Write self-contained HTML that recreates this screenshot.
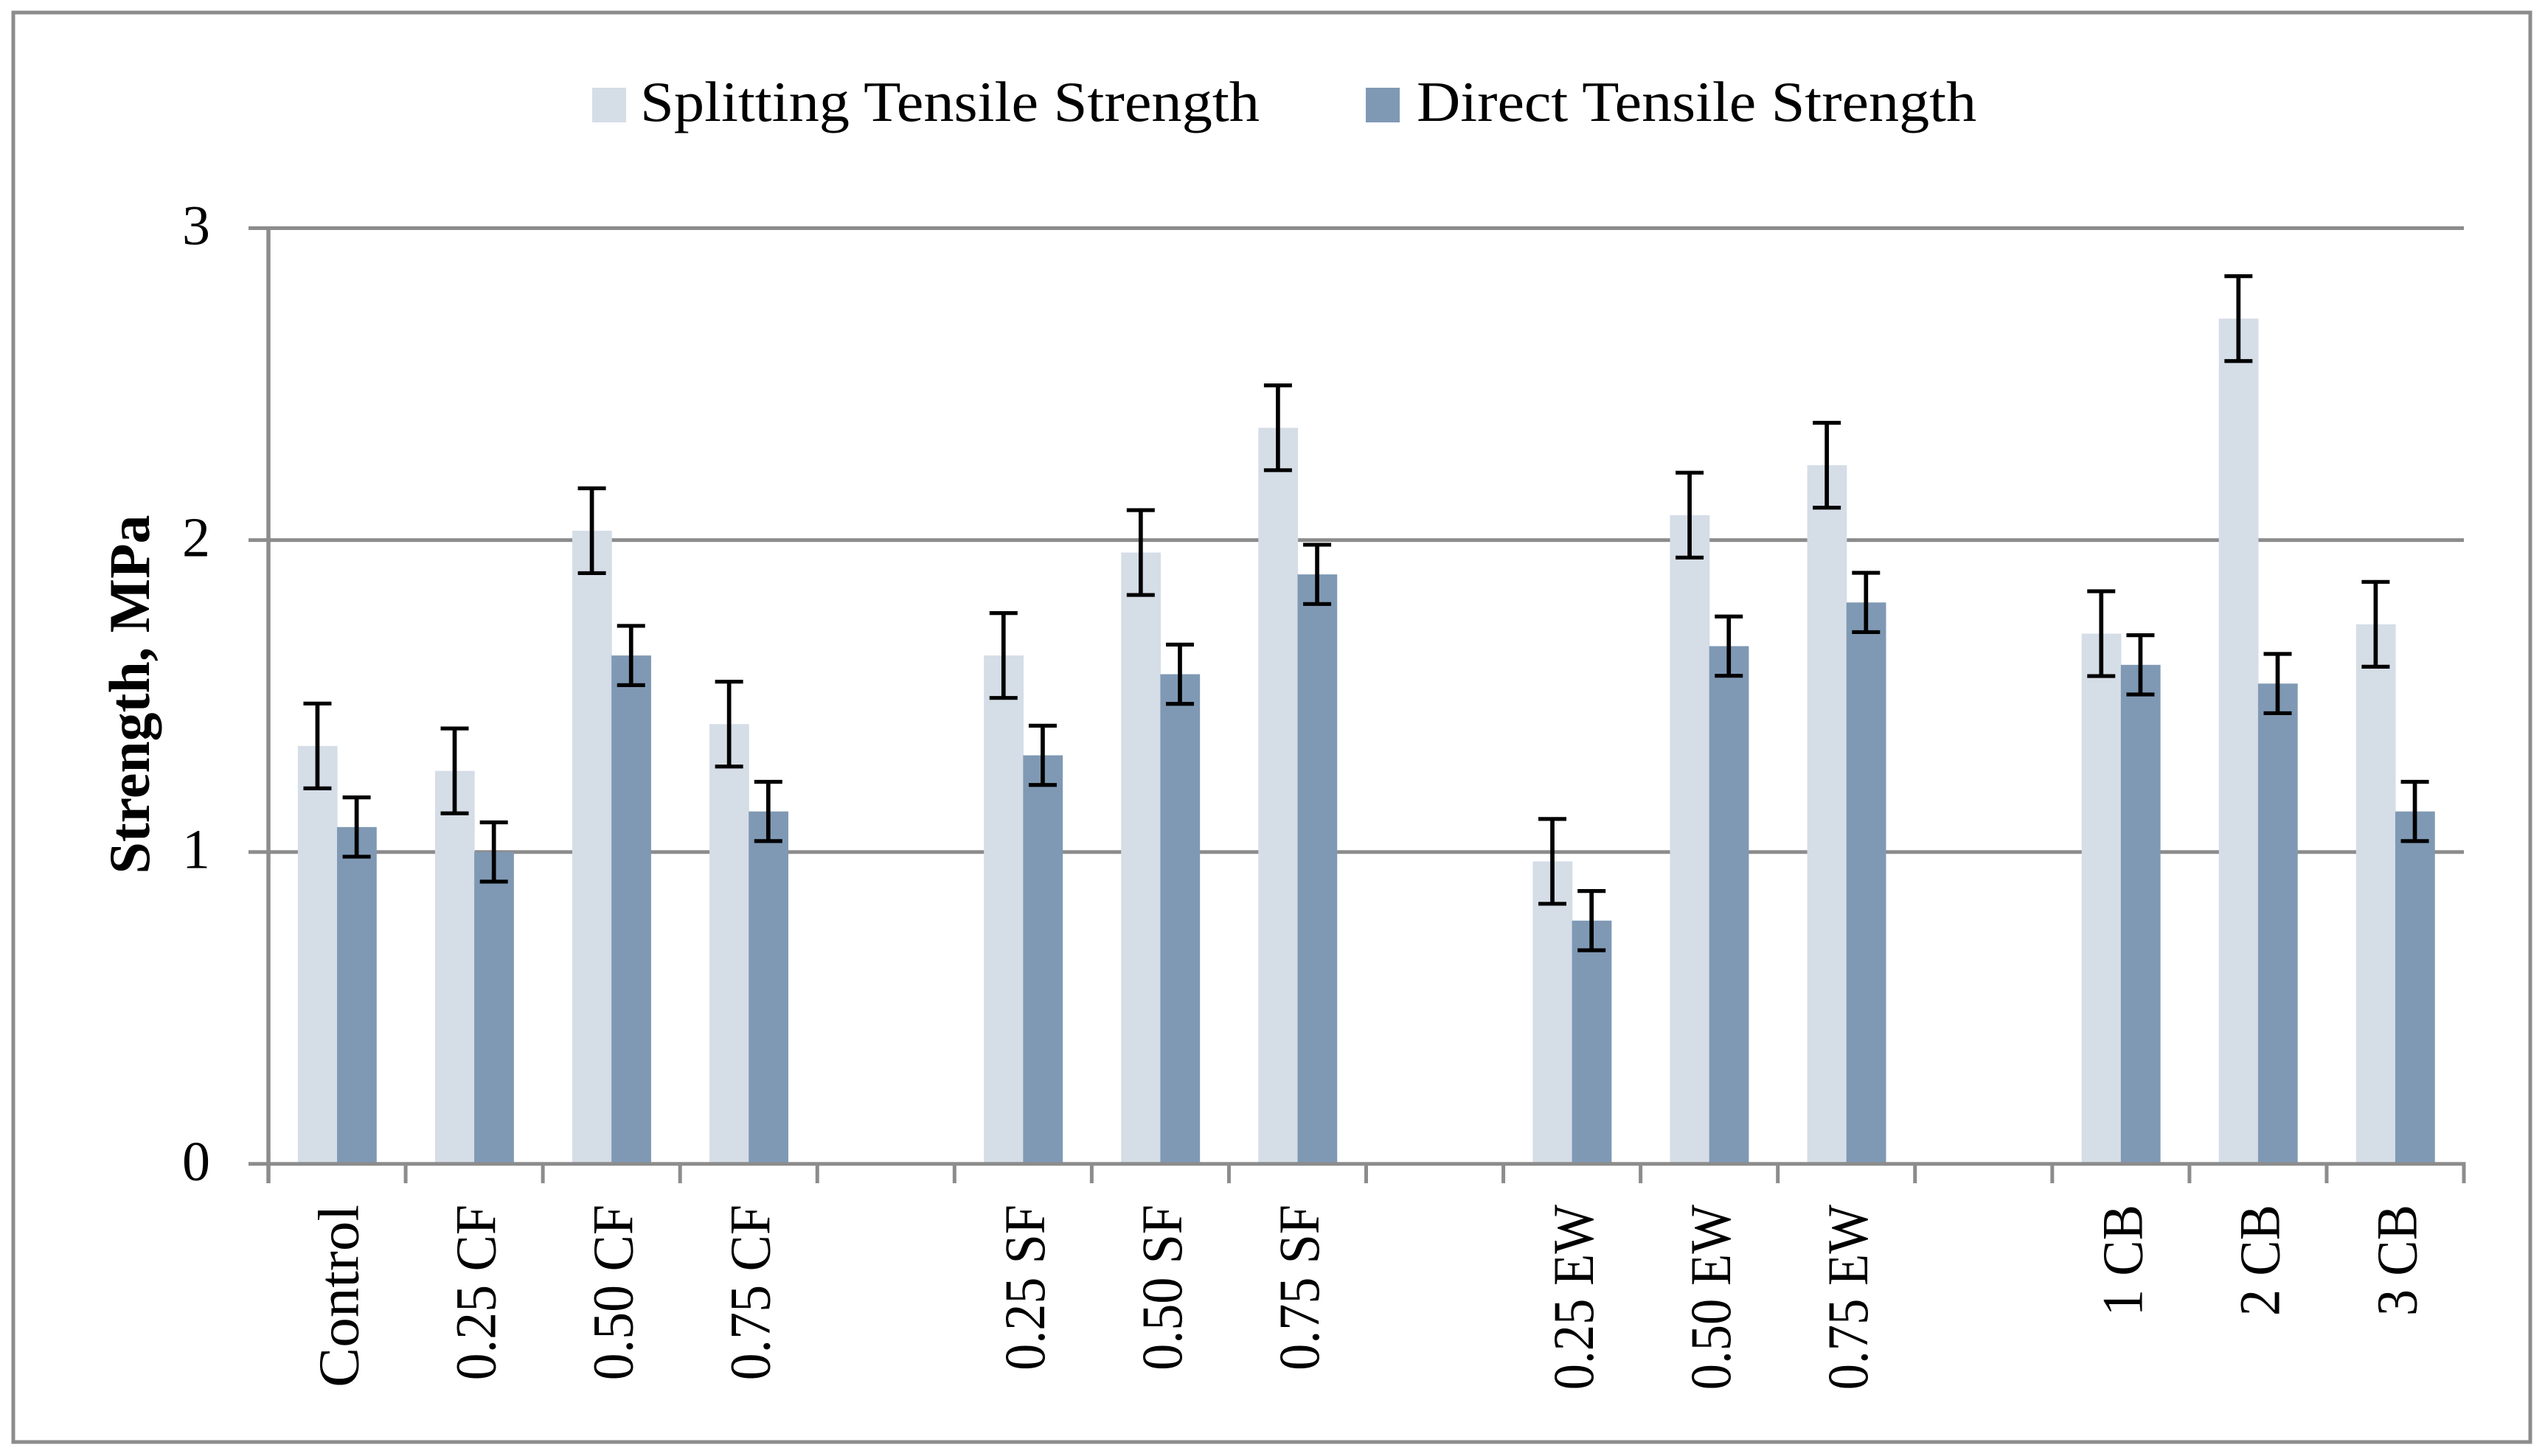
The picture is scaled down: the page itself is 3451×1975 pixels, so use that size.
<!DOCTYPE html>
<html lang="en">
<head>
<meta charset="utf-8">
<title>Strength chart</title>
<style>
html,body{margin:0;padding:0;background:#fff;}
svg{display:block;}
text{font-family:"Liberation Serif","DejaVu Serif",serif;fill:#000;}
</style>
</head>
<body>
<svg id="chart" xmlns="http://www.w3.org/2000/svg" width="3451" height="1975" viewBox="0 0 3451 1975">
  <rect x="0" y="0" width="3451" height="1975" fill="#ffffff"/>
  <rect x="18" y="17" width="3413" height="1939" fill="none" stroke="#8c8c8c" stroke-width="5"/>
  <g>
    <g>
      <rect x="803" y="119" width="46" height="47" fill="#d5dde7"/>
      <text x="868" y="164" font-size="77" textLength="840" lengthAdjust="spacingAndGlyphs">Splitting Tensile Strength</text>
    </g>
    <g>
      <rect x="1852" y="119" width="46" height="47" fill="#7f99b4"/>
      <text x="1921" y="164" font-size="77" textLength="759" lengthAdjust="spacingAndGlyphs">Direct Tensile Strength</text>
    </g>
  </g>
  <text transform="translate(202,942) rotate(-90)" text-anchor="middle" font-size="78" font-weight="bold" textLength="487" lengthAdjust="spacingAndGlyphs">Strength, MPa</text>
  <g id="grid"></g>
  <g id="bars"></g>
  <g id="axes"></g>
  <g id="errors"></g>
  <g id="ylabels"></g>
  <g id="xlabels"></g>
</svg>
<script>
const categories = ['Control','0.25 CF','0.50 CF','0.75 CF','','0.25 SF','0.50 SF','0.75 SF','','0.25 EW','0.50 EW','0.75 EW','','1 CB','2 CB','3 CB'];
const splittingValues = [1.34,1.26,2.03,1.41,null,1.63,1.96,2.36,null,0.97,2.08,2.24,null,1.70,2.71,1.73];
const directValues = [1.08,1.00,1.63,1.13,null,1.31,1.57,1.89,null,0.78,1.66,1.80,null,1.60,1.54,1.13];
const splittingErrors = [0.136,0.136,0.136,0.136,null,0.136,0.136,0.136,null,0.136,0.136,0.136,null,0.136,0.136,0.136];
const directErrors = [0.095,0.095,0.095,0.095,null,0.095,0.095,0.095,null,0.095,0.095,0.095,null,0.095,0.095,0.095];
const yTicks = [0,1,2,3];

const NS = 'http://www.w3.org/2000/svg';
const GRID = '#8c8c8c';
const plotLeft = 364, plotRight = 3341, plotBase = 1578.8, unit = 423.1;
const step = (plotRight - plotLeft) / categories.length;
const barW = step / 3.5;
const xBand = i => plotLeft + step * i;
const xCenter = i => xBand(i) + step / 2;
const yScale = v => plotBase - v * unit;

/* Advance widths of the reference's old-style serif, used to fit each label's length */
const refWidths = {'0':.5,'1':.5,'2':.5,'3':.5,'5':.5,'7':.5,'.':.25,' ':.25,C:.709,o:.546,n:.582,t:.326,r:.395,l:.291,F:.556,S:.525,E:.611,W:.833,B:.611};
const fitLength = s => [...s].reduce((a, c) => a + (refWidths[c] || .5), 0) * 73;

function make(tag, parent, attrs) {
  const el = document.createElementNS(NS, tag);
  for (const k in attrs) el.setAttribute(k, attrs[k]);
  parent.appendChild(el);
  return el;
}
const grid = document.getElementById('grid');
const bars = document.getElementById('bars');
const axes = document.getElementById('axes');
const errors = document.getElementById('errors');
const ylabels = document.getElementById('ylabels');
const xlabels = document.getElementById('xlabels');

yTicks.forEach(t => {
  const y = yScale(t);
  if (t !== 0) {
    const line = make('line', grid, {x1: 337, x2: plotRight, y1: y, y2: y, stroke: GRID, 'stroke-width': 5});
    
    
  }
  const label = make('text', ylabels, {x: 285, y: y + 22, 'text-anchor': 'end', 'font-size': 76});
  
  
  label.textContent = t;
});

function drawBar(i, v, x, fill, name) {
  const bar = make('rect', bars, {x: x, y: yScale(v), width: barW + 0.6, height: plotBase - yScale(v), fill: fill});
  
  
}
function drawError(v, e, cx, name) {
  const top = yScale(v + e), bottom = yScale(v - e), g = make('g', errors, {stroke: '#000', fill: 'none'});
  
  
  make('line', g, {x1: cx, x2: cx, y1: top, y2: bottom, 'stroke-width': 5.7});
  make('line', g, {x1: cx - 19, x2: cx + 19, y1: top, y2: top, 'stroke-width': 5.2});
  make('line', g, {x1: cx - 19, x2: cx + 19, y1: bottom, y2: bottom, 'stroke-width': 5.2});
}

categories.forEach((c, i) => {
  if (c === '') return;
  const lx = xCenter(i) - barW, dx = xCenter(i);
  drawBar(i, splittingValues[i], lx, '#d5dde7', 'bar-splitting');
  drawBar(i, directValues[i], dx, '#7f99b4', 'bar-direct');
  drawError(splittingValues[i], splittingErrors[i], lx + barW / 2, 'error-bar-splitting');
  drawError(directValues[i], directErrors[i], dx + barW / 2, 'error-bar-direct');
  const label = make('text', xlabels, {
    transform: 'translate(' + (xCenter(i) + 28.5) + ',1634) rotate(-90)',
    'text-anchor': 'end', 'font-size': 78,
    textLength: fitLength(c), lengthAdjust: 'spacingAndGlyphs'
  });
  
  
  label.textContent = c;
});

const yAxis = make('line', axes, {x1: plotLeft, x2: plotLeft, y1: yScale(3) - 2.5, y2: 1605, stroke: GRID, 'stroke-width': 5.5});


const xAxis = make('line', axes, {x1: 337, x2: plotRight + 2.5, y1: plotBase, y2: plotBase, stroke: GRID, 'stroke-width': 5});


for (let i = 1; i <= categories.length; i++) {
  const tick = make('line', axes, {x1: xBand(i), x2: xBand(i), y1: plotBase, y2: 1605, stroke: GRID, 'stroke-width': 5});
  
  
}
</script>
</body>
</html>
